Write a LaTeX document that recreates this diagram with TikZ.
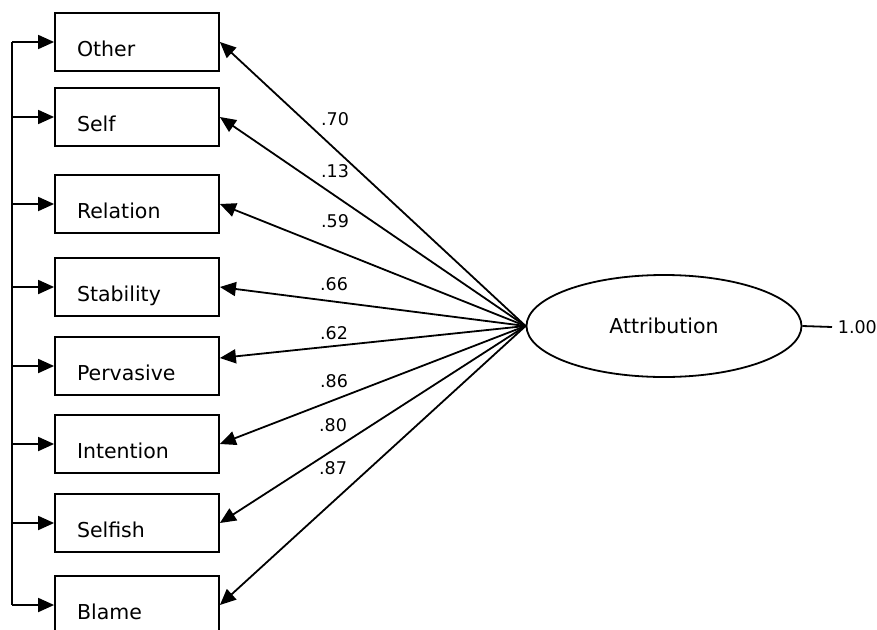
\documentclass[tikz,border=0pt]{standalone}
\usepackage{fontspec}
\setmainfont{DejaVu Sans}
\usetikzlibrary{shapes.geometric,arrows.meta}

\begin{document}
\begin{tikzpicture}[x=1pt,y=-1pt,line width=1.8pt,
        ind/.style={draw, rectangle, minimum width=164pt, minimum height=58pt,
            text width=120pt, inner xsep=22pt, align=left,
            text height=29pt, text depth=0pt, font=\fontsize{20.5}{24}\selectfont},
        lat/.style={draw, ellipse, minimum width=275pt, minimum height=102pt,
            inner sep=0pt, font=\fontsize{20.5}{24}\selectfont},
        coef/.style={inner sep=0pt, font=\fontsize{17.5}{20}\selectfont},
        arr/.style={-{Triangle[length=16pt,width=14pt]}}]
        \useasboundingbox (0,0) rectangle (877,629);
        % observed variables
        \node[ind] (oth) at (137,42) {Other};
        \node[ind] (slf) at (137,117) {Self};
        \node[ind] (rel) at (137,204) {Relation};
        \node[ind] (stb) at (137,287) {Stability};
        \node[ind] (prv) at (137,366) {Pervasive};
        \node[ind] (itn) at (137,444) {Intention};
        \node[ind] (sfh) at (137,523) {Selfish};
        \node[ind] (blm) at (137,605) {Blame};
        % latent factor
        \node[lat] (att) at (664,326) {Attribution};
        \node[coef, anchor=west] (err) at (837,327) {1.00};
        \draw (att.east) -- ([xshift=-5pt]err.west);
        % left bus
        \coordinate (bus) at (12,0);
        \draw (bus |- oth.west) -- (bus |- blm.west);
        \draw[arr] (bus |- oth.west) -- (oth.west);
        \draw[arr] (bus |- slf.west) -- (slf.west);
        \draw[arr] (bus |- rel.west) -- (rel.west);
        \draw[arr] (bus |- stb.west) -- (stb.west);
        \draw[arr] (bus |- prv.west) -- (prv.west);
        \draw[arr] (bus |- itn.west) -- (itn.west);
        \draw[arr] (bus |- sfh.west) -- (sfh.west);
        \draw[arr] (bus |- blm.west) -- (blm.west);
        % loadings
        \draw[arr] (att.west) -- (oth.east);
        \draw[arr] (att.west) -- (slf.east);
        \draw[arr] (att.west) -- (rel.east);
        \draw[arr] (att.west) -- (stb.east);
        \draw[arr] (att.west) -- ([yshift=8pt]prv.east);
        \draw[arr] (att.west) -- (itn.east);
        \draw[arr] (att.west) -- (sfh.east);
        \draw[arr] (att.west) -- (blm.east);
        \node[coef] (l1) at (335,119) {.70};
        \node[coef] (l2) at (335,171) {.13};
        \node[coef] (l3) at (335,221) {.59};
        \node[coef] (l4) at (334,284) {.66};
        \node[coef] (l5) at (334,333) {.62};
        \node[coef] (l6) at (334,381) {.86};
        \node[coef] (l7) at (333,425) {.80};
        \node[coef] (l8) at (333,468) {.87};
\end{tikzpicture}
\end{document}
